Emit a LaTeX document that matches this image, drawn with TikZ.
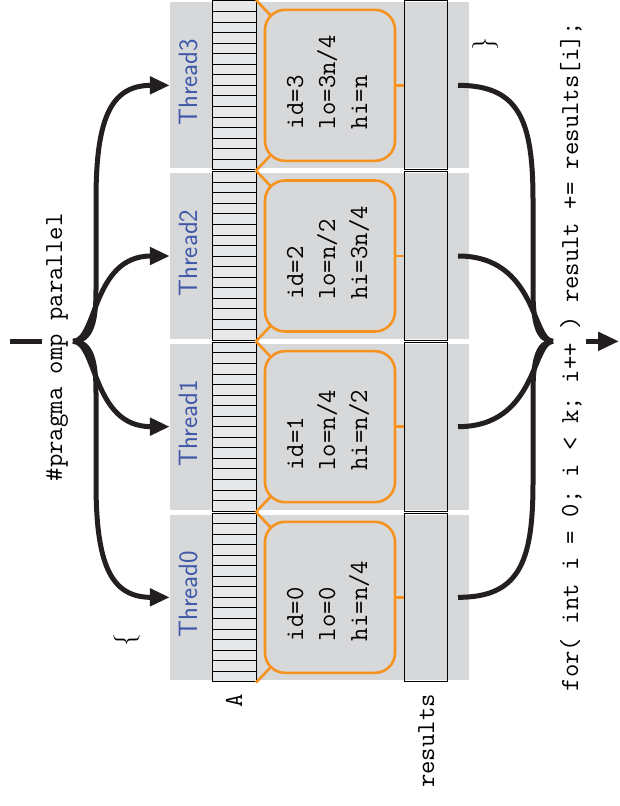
\documentclass[tikz,border=0pt]{standalone}
\usepackage{fontspec}
\usetikzlibrary{arrows.meta}

\definecolor{panelgray}{RGB}{215,216,218}
\definecolor{cellgray}{RGB}{231,232,233}
\definecolor{threadblue}{RGB}{64,88,168}
\definecolor{workorange}{RGB}{246,146,30}
\definecolor{flowblack}{RGB}{35,31,32}

% One thread's slice: panel, slice of A, results cell, work box, labels.
% #1 thread number, #2 y centre, #3 lo text, #4 hi text
\newcommand\threadpanel[4]{%
  \node[band] (band#1) at (319.5,#2) {};
  \node[arrayblock] (A#1) at (234,#2) {};
  \foreach \j in {1,...,15}
    \draw[cellrule] (212,{#2-84.333+\j*10.5417}) -- (256,{#2-84.333+\j*10.5417});
  \node[rescell] (R#1) at (425.5,#2) {};
  \node[workbox] (W#1) at (330,#2) {};
  \coordinate (Wa#1) at (270.86,#2-69.64);
  \coordinate (Wb#1) at (270.86,#2+69.64);
  \coordinate (Sa#1) at (256,#2-85.333);
  \coordinate (Sb#1) at (256,#2+85.333);
  \draw[link] (Sa#1) -- (Wa#1);
  \draw[link] (Sb#1) -- (Wb#1);
  \draw[link] (W#1.east) -- (R#1.west);
  \node[code, anchor=base west] (id#1) at (303,#2+44) {id=#1};
  \node[code, anchor=base west] (lo#1) at (335,#2+44) {lo=#3};
  \node[code, anchor=base west] (hi#1) at (367,#2+44) {hi=#4};
  \node[threadlbl] (T#1) at (197,#2-3) {Thread#1};
  \coordinate (out#1) at (458,#2);
}

\begin{document}
\begin{tikzpicture}[x=1pt,y=-1pt,
  code/.style={font=\ttfamily\fontsize{26}{32}\selectfont, inner sep=0pt, rotate=90},
  brace/.style={font=\rmfamily\fontsize{26}{32}\selectfont, inner sep=0pt, rotate=90, anchor=base},
  threadlbl/.style={font=\sffamily\fontsize{26.5}{30}\selectfont, text=threadblue,
    inner sep=0pt, rotate=90, anchor=base},
  band/.style={fill=panelgray, draw=none, inner sep=0pt,
    minimum width=299pt, minimum height=165.67pt},
  arrayblock/.style={fill=cellgray, draw=black, line width=1pt, inner sep=0pt,
    minimum width=44pt, minimum height=168.67pt},
  cellrule/.style={draw=black, line width=0.8pt},
  rescell/.style={draw=black, line width=1pt, inner sep=0pt,
    minimum width=43pt, minimum height=168.67pt},
  workbox/.style={draw=workorange, line width=2.6pt, rounded corners=20pt,
    fill=panelgray, inner sep=0pt, minimum width=130pt, minimum height=151pt},
  link/.style={draw=workorange, line width=2.6pt},
  flow/.style={draw=flowblack, line width=5pt},
  tip/.style={-{Triangle[length=20pt,width=17pt]}}
]
\useasboundingbox (0,0) rectangle (620,806);

\threadpanel{3}{85.333}{3n/4}{n}
\threadpanel{2}{256}{n/2}{3n/4}
\threadpanel{1}{426.667}{n/4}{n/2}
\threadpanel{0}{597.333}{0}{n/4}

% array names
\node[code, anchor=base east] (Aname) at (242,694) {A};
\node[code, anchor=base east] (Rname) at (434,694) {results};

% code around the parallel region
\node[code, anchor=base west] (pragma) at (62,481.5) {\#pragma omp parallel};
\node[brace] (openbrace) at (133,640) {\{};
\node[brace] (closebrace) at (491.5,44) {\}};
\node[code, anchor=base west] (loop) at (578,691.5)
  {for( int i = 0; i < k; i++ ) result += results[i];};

% fork into the threads
\coordinate (stemA) at (10,341.333);
\coordinate (stemB) at (42,341.333);
\coordinate (fork) at (73,341.333);
\draw[flow] (stemA) -- (stemB);
\draw[flow,tip] (fork) .. controls (92,341.333) and (96,320) .. (96,290)
  -- (96,200) .. controls (96,120) and (110,85.333) .. (band3.west);
\draw[flow,tip] (fork) .. controls (97,341.333) and (92,256) .. (band2.west);
\draw[flow,tip] (fork) .. controls (97,341.333) and (92,426.667) .. (band1.west);
\draw[flow,tip] (fork) .. controls (92,341.333) and (96,362.667) .. (96,392.667)
  -- (96,482.667) .. controls (96,562.667) and (110,597.333) .. (band0.west);

% join of the results
\coordinate (join) at (553,341.333);
\draw[flow] (out3) .. controls (519,85.333) and (533,120) .. (533,200)
  -- (533,290) .. controls (533,320) and (537,341.333) .. (join);
\draw[flow] (out2) .. controls (537,256) and (532,341.333) .. (join);
\draw[flow] (out1) .. controls (537,426.667) and (532,341.333) .. (join);
\draw[flow] (out0) .. controls (519,597.333) and (533,562.667) .. (533,482.667)
  -- (533,392.667) .. controls (533,362.667) and (537,341.333) .. (join);

\coordinate (exitA) at (586,341.333);
\coordinate (exitB) at (619,341.333);
\draw[flow,-{Triangle[length=21pt,width=18pt]}] (exitA) -- (exitB);
\end{tikzpicture}
\end{document}
